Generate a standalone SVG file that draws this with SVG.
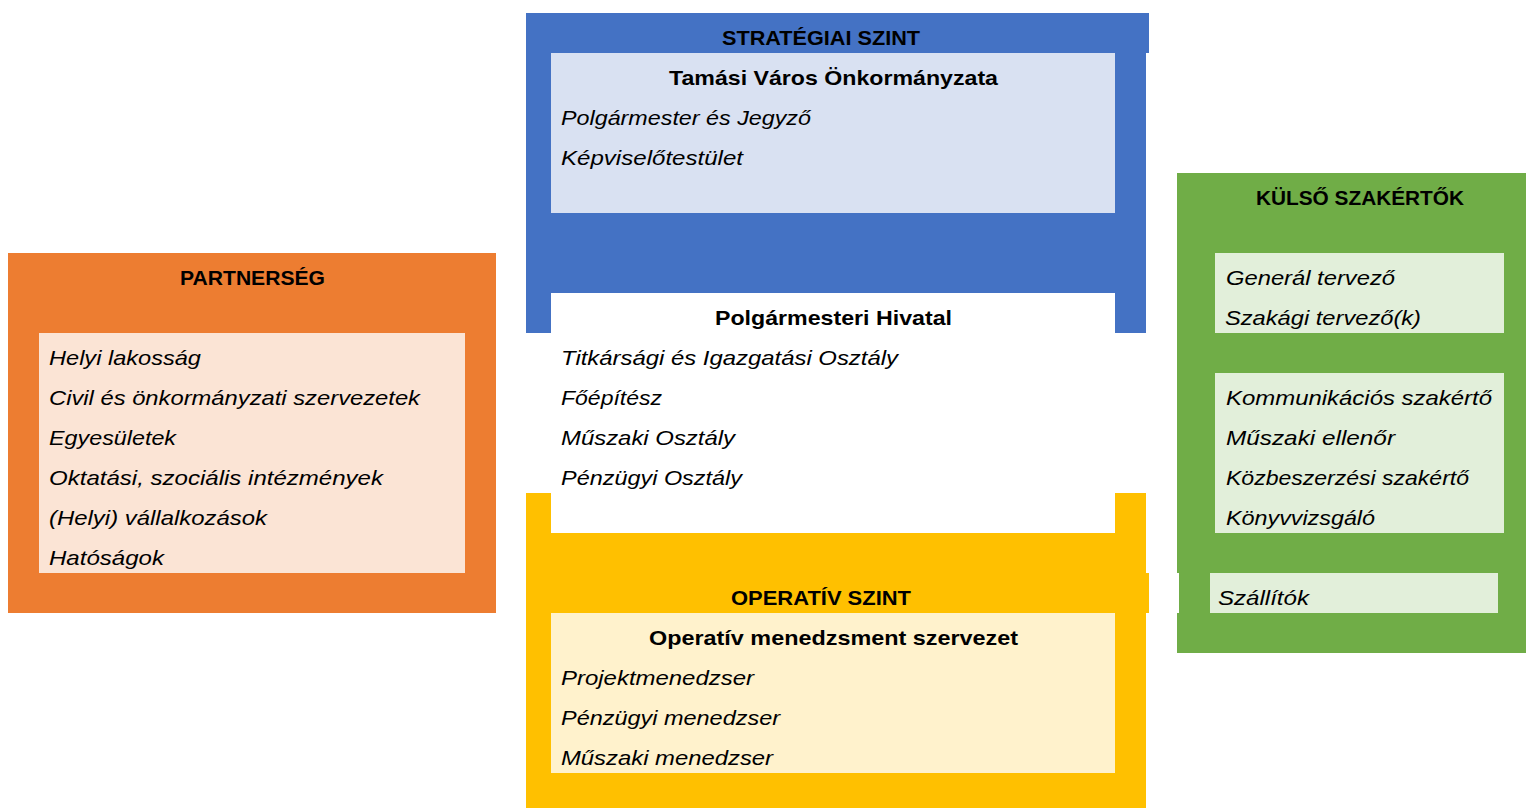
<svg xmlns="http://www.w3.org/2000/svg" width="1526" height="808" viewBox="0 0 1526 808">
<style>
text{font-family:"Liberation Sans",Arial,sans-serif;font-size:21px;fill:#000}
.h{font-weight:bold}
.c{text-anchor:middle}
.i{font-style:italic}
</style>
<rect width="1526" height="808" fill="#fff"/>
<g id="strategiai">
<polygon points="526,13 1149,13 1149,53 1146,53 1146,333 526,333" fill="#4472C4"/>
<rect x="551" y="53" width="564" height="160" fill="#D9E1F2"/>
<text class="h" x="722" y="45" textLength="198" lengthAdjust="spacingAndGlyphs">STRATÉGIAI SZINT</text>
<text class="h" x="669" y="85" textLength="329" lengthAdjust="spacingAndGlyphs">Tamási Város Önkormányzata</text>
<text class="i" x="561" y="125" textLength="250" lengthAdjust="spacingAndGlyphs">Polgármester és Jegyző</text>
<text class="i" x="561" y="165" textLength="182" lengthAdjust="spacingAndGlyphs">Képviselőtestület</text>
</g>
<g id="operativ">
<polygon points="526,493 1146,493 1146,573 1149,573 1149,613 1146,613 1146,808 526,808" fill="#FFC000"/>
<rect x="551" y="613" width="564" height="160" fill="#FFF2CC"/>
<text class="h" x="731" y="605" textLength="180" lengthAdjust="spacingAndGlyphs">OPERATÍV SZINT</text>
<text class="h" x="649" y="645" textLength="369" lengthAdjust="spacingAndGlyphs">Operatív menedzsment szervezet</text>
<text class="i" x="561" y="685" textLength="193" lengthAdjust="spacingAndGlyphs">Projektmenedzser</text>
<text class="i" x="561" y="725" textLength="219" lengthAdjust="spacingAndGlyphs">Pénzügyi menedzser</text>
<text class="i" x="561" y="765" textLength="212" lengthAdjust="spacingAndGlyphs">Műszaki menedzser</text>
</g>
<g id="hivatal">
<rect x="551" y="293" width="564" height="240" fill="#fff"/>
<text class="h" x="715" y="325" textLength="237" lengthAdjust="spacingAndGlyphs">Polgármesteri Hivatal</text>
<text class="i" x="561" y="365" textLength="337" lengthAdjust="spacingAndGlyphs">Titkársági és Igazgatási Osztály</text>
<text class="i" x="561" y="405" textLength="101" lengthAdjust="spacingAndGlyphs">Főépítész</text>
<text class="i" x="561" y="445" textLength="174" lengthAdjust="spacingAndGlyphs">Műszaki Osztály</text>
<text class="i" x="561" y="485" textLength="181" lengthAdjust="spacingAndGlyphs">Pénzügyi Osztály</text>
</g>
<g id="kulso">
<rect x="1177" y="173" width="349" height="480" fill="#70AD47"/>
<rect x="1177" y="573" width="2" height="40" fill="#fff"/>
<rect x="1215" y="253" width="289" height="80" fill="#E2EFDA"/>
<rect x="1215" y="373" width="289" height="160" fill="#E2EFDA"/>
<rect x="1210" y="573" width="288" height="40" fill="#E2EFDA"/>
<text class="h" x="1256" y="205" textLength="208" lengthAdjust="spacingAndGlyphs">KÜLSŐ SZAKÉRTŐK</text>
<text class="i" x="1226" y="285" textLength="169" lengthAdjust="spacingAndGlyphs">Generál tervező</text>
<text class="i" x="1225" y="325" textLength="196" lengthAdjust="spacingAndGlyphs">Szakági tervező(k)</text>
<text class="i" x="1226" y="405" textLength="266" lengthAdjust="spacingAndGlyphs">Kommunikációs szakértő</text>
<text class="i" x="1226" y="445" textLength="169" lengthAdjust="spacingAndGlyphs">Műszaki ellenőr</text>
<text class="i" x="1226" y="485" textLength="243" lengthAdjust="spacingAndGlyphs">Közbeszerzési szakértő</text>
<text class="i" x="1226" y="525" textLength="149" lengthAdjust="spacingAndGlyphs">Könyvvizsgáló</text>
<text class="i" x="1218" y="605" textLength="91" lengthAdjust="spacingAndGlyphs">Szállítók</text>
</g>
<g id="partnerseg">
<rect x="8" y="253" width="488" height="360" fill="#ED7D31"/>
<rect x="39" y="333" width="426" height="240" fill="#FBE4D5"/>
<text class="h" x="180" y="285" textLength="145" lengthAdjust="spacingAndGlyphs">PARTNERSÉG</text>
<text class="i" x="49" y="365" textLength="152" lengthAdjust="spacingAndGlyphs">Helyi lakosság</text>
<text class="i" x="49" y="405" textLength="371" lengthAdjust="spacingAndGlyphs">Civil és önkormányzati szervezetek</text>
<text class="i" x="49" y="445" textLength="127" lengthAdjust="spacingAndGlyphs">Egyesületek</text>
<text class="i" x="49" y="485" textLength="334" lengthAdjust="spacingAndGlyphs">Oktatási, szociális intézmények</text>
<text class="i" x="49" y="525" textLength="218" lengthAdjust="spacingAndGlyphs">(Helyi) vállalkozások</text>
<text class="i" x="49" y="565" textLength="115" lengthAdjust="spacingAndGlyphs">Hatóságok</text>
</g>
</svg>
